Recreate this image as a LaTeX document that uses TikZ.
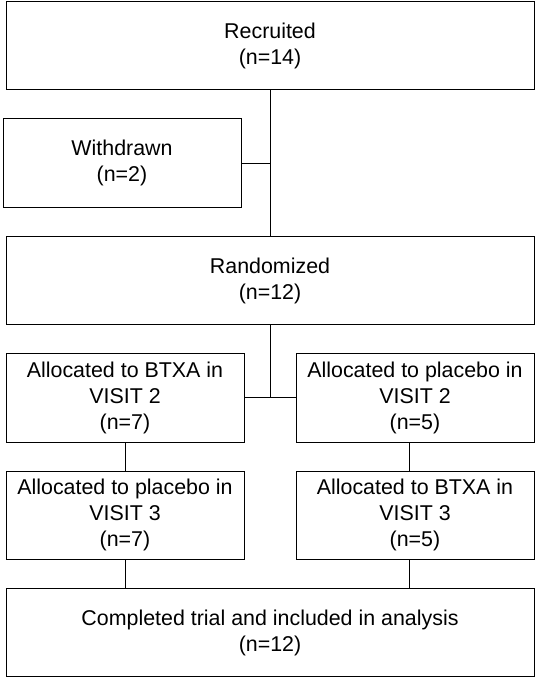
\documentclass[tikz,border=0pt]{standalone}
\usepackage{fontspec}
\setmainfont{Liberation Sans}
\usetikzlibrary{positioning}

\begin{document}
\begin{tikzpicture}
    [x=1pt, y=1pt,
    node distance =29pt,
    line width=1pt,
    box/.style={draw, rectangle, align=center, inner sep=0pt, outer sep=0pt,
        minimum height=88.4pt, font=\fontsize{21.4}{26}\selectfont},
    widebox/.style={box, minimum width=528pt},
    smallbox/.style={box, minimum width=238pt}]
        \useasboundingbox (0,0) rectangle (535,-678);
        %% Boxes
        \node[widebox] (rec) at (270,-45.7) {Recruited\\(n=14)};
        \node[smallbox, below right=29pt and -3pt of rec.south west] (wd) {Withdrawn\\(n=2)};
        \node[widebox, below=146.4pt of rec] (rnd) {Randomized\\(n=12)};
        \node[smallbox, below right=29pt and 0pt of rnd.south west] (btxa2) {Allocated to BTXA in\\VISIT 2\\(n=7)};
        \node[smallbox, below left=29pt and 0pt of rnd.south east] (plc2) {Allocated to placebo in\\VISIT 2\\(n=5)};
        \node[smallbox, below=29pt of btxa2] (plc3) {Allocated to placebo in\\VISIT 3\\(n=7)};
        \node[smallbox, below=29pt of plc2] (btxa3) {Allocated to BTXA in\\VISIT 3\\(n=5)};
        \node[widebox, below right=29pt and 0pt of plc3.south west] (done) {Completed trial and included in analysis\\(n=12)};

        %% Lines
        \draw (rec) to (rnd);
        \draw (wd.east) to (wd.east -| rec.south);
        \draw (rnd.south) to (rnd.south |- btxa2.east);
        \draw (btxa2.east) to (plc2.west);
        \draw (btxa2) to (plc3);
        \draw ([xshift=-6pt]plc2.south) to ([xshift=-6pt]btxa3.north);
        \draw (plc3.south) to (plc3.south |- done.north);
        \draw ([xshift=-6pt]btxa3.south) to ([xshift=-6pt]btxa3.south |- done.north);
    \end{tikzpicture}
\end{document}
